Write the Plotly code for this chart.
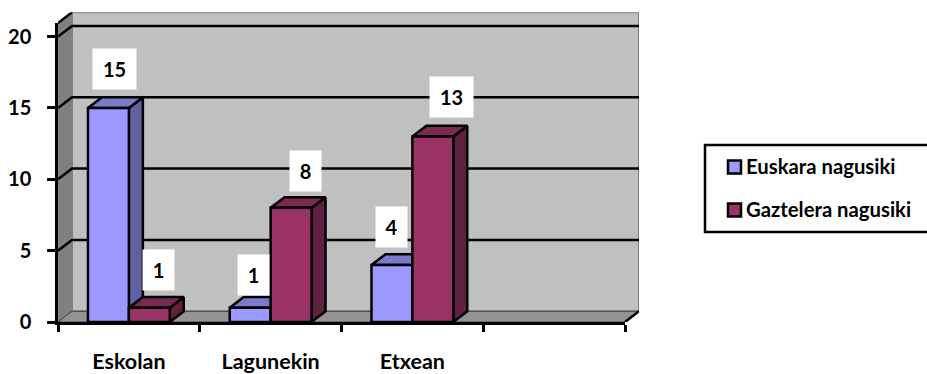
import plotly.graph_objects as go

# Survey counts per setting
categories = ["Eskolan", "Lagunekin", "Etxean", " "]
euskara = [15, 1, 4, None]
gaztelera = [1, 8, 13, None]
series_names = ["Euskara nagusiki", "Gaztelera nagusiki"]
y_ticks = [0, 5, 10, 15, 20]

# Page and plot geometry, in pixels
W, H = 927, 374
LEFT, RIGHT, BOTTOM, TOP = 58, 625, 322, 23
DEPTH_PX_X, DEPTH_PX_Y = 14, 10.7
UNIT_PX = 14.27
CAT_PX = (RIGHT - LEFT) / 4

# Extruded depth in axis units
DX = DEPTH_PX_X / CAT_PX
DY = DEPTH_PX_Y / UNIT_PX
Y_MAX = (BOTTOM - TOP) / UNIT_PX
X_MIN, X_MAX = -0.5, 3.5
BARGAP = 0.423
BAR_W = (1 - BARGAP) / 2

FONT = "Lato, Carlito, sans-serif"
INK = "#000000"
TEXT_SIZE = 20
STROKE = 2.5
BLUE = dict(front="#9999FF", top="#7A7AC9", side="#6060A3")
RED = dict(front="#993366", top="#7A2950", side="#602040")
WALL, SIDE_WALL, FLOOR = "#C0C0C0", "#808080", "#949494"


def px_x(x):
    return x / W


def px_y(y):
    return 1 - y / H


def polygon(xs, ys, fill, line="black", width=STROKE):
    return go.Scatter(
        x=xs, y=ys, mode="lines", fill="toself", fillcolor=fill,
        line=dict(color=line, width=width), hoverinfo="skip",
        showlegend=False, cliponaxis=False, xaxis="x", yaxis="y",
    )


def extruded_faces(values, offset, colors):
    """Top and right-hand faces of one series as two polygon traces."""
    top_x, top_y, side_x, side_y = [], [], [], []
    for i, v in enumerate(values):
        if v is None:
            continue
        x0 = i + offset
        x1 = x0 + BAR_W
        top_x += [x0, x1, x1 + DX, x0 + DX, x0, None]
        top_y += [v, v, v + DY, v + DY, v, None]
        side_x += [x1, x1 + DX, x1 + DX, x1, x1, None]
        side_y += [0, DY, v + DY, v, 0, None]
    return [polygon(side_x, side_y, colors["side"]), polygon(top_x, top_y, colors["top"])]


fig = go.Figure()

# Back wall, its gridlines, the side wall and the floor
fig.add_trace(polygon(
    [X_MIN + DX, X_MAX + DX, X_MAX + DX, X_MIN + DX, X_MIN + DX],
    [DY, DY, Y_MAX + DY, Y_MAX + DY, DY], WALL, line="#808080", width=2))
fig.add_trace(polygon(
    [X_MIN, X_MIN + DX, X_MIN + DX, X_MIN, X_MIN],
    [0, DY, Y_MAX + DY, Y_MAX, 0], SIDE_WALL, line="#808080", width=1))
fig.add_trace(polygon(
    [X_MIN, X_MIN + DX, X_MAX + DX, X_MAX, X_MIN],
    [0, DY, DY, 0, 0], FLOOR, line="#404040", width=1))

grid_x, grid_y = [], []
for t in y_ticks[1:]:
    grid_x += [X_MIN, X_MIN + DX, X_MAX + DX, None]
    grid_y += [t, t + DY, t + DY, None]
fig.add_trace(go.Scatter(
    x=grid_x, y=grid_y, mode="lines", line=dict(color="black", width=STROKE),
    hoverinfo="skip", showlegend=False, xaxis="x", yaxis="y", cliponaxis=False))
fig.add_trace(go.Scatter(
    x=[X_MIN, X_MIN + DX, None, X_MAX, X_MAX + DX],
    y=[Y_MAX, Y_MAX + DY, None, 0, DY], mode="lines",
    line=dict(color="black", width=STROKE), hoverinfo="skip", showlegend=False,
    xaxis="x", yaxis="y", cliponaxis=False))

# Extruded faces sit under the front faces of the bars
for trace in extruded_faces(euskara, -BAR_W, BLUE) + extruded_faces(gaztelera, 0, RED):
    fig.add_trace(trace)

# Front faces
for name, values, colors in [(series_names[0], euskara, BLUE), (series_names[1], gaztelera, RED)]:
    fig.add_trace(go.Bar(
        x=categories, y=values, name=name, xaxis="x2", yaxis="y2",
        marker=dict(color=colors["front"], line=dict(color="black", width=STROKE)),
        showlegend=False,
    ))

# Value labels on white boxes, nudged clear of the bar tops
label_nudge = {
    0: [(6, 39), (3, 33), (0, 38)],
    1: [(9.5, 38), (14, 37), (19, 39)],
}
annotations = []
for s, values in enumerate([euskara, gaztelera]):
    centre = -BAR_W / 2 if s == 0 else BAR_W / 2
    for i, v in enumerate(values):
        if v is None:
            continue
        dx, dy = label_nudge[s][i]
        annotations.append(dict(
            x=i + centre, y=v, xref="x", yref="y", text=str(v), showarrow=False,
            xshift=dx, yshift=dy, bgcolor="white",
            width=41 if v >= 10 else 29, height=38, align="center", valign="middle",
            font=dict(family=FONT, size=TEXT_SIZE, weight=700, color=INK),
        ))

# Legend box
shapes = [dict(
    type="rect", xref="paper", yref="paper", x0=px_x(705), x1=px_x(935),
    y0=px_y(232), y1=px_y(145), line=dict(color="black", width=STROKE), fillcolor="white",
)]
for name, colors, row_y in [(series_names[0], BLUE, 167), (series_names[1], RED, 210)]:
    shapes.append(dict(
        type="rect", xref="paper", yref="paper", x0=px_x(728), x1=px_x(741),
        y0=px_y(row_y + 6.5), y1=px_y(row_y - 6.5), fillcolor=colors["front"],
        line=dict(color="black", width=STROKE),
    ))
    annotations.append(dict(
        x=px_x(745), y=px_y(row_y - 1.5), xref="paper", yref="paper", text=name,
        showarrow=False, xanchor="left", yanchor="middle",
        font=dict(family=FONT, size=20.3, weight=700, color=INK), borderpad=0,
    ))

tick_font = dict(family=FONT, size=TEXT_SIZE, weight=700, color=INK)
fig.update_layout(
    width=W, height=H, autosize=False,
    margin=dict(l=0, r=0, t=0, b=0, pad=0, autoexpand=False),
    paper_bgcolor="white", plot_bgcolor="rgba(0,0,0,0)",
    barmode="group", bargap=BARGAP, bargroupgap=0,
    font=dict(family=FONT, color=INK),
    xaxis=dict(
        visible=False, range=[X_MIN, X_MAX + DX], fixedrange=True,
        domain=[px_x(LEFT), px_x(RIGHT + DEPTH_PX_X)], anchor="y", automargin=False,
    ),
    yaxis=dict(
        visible=False, range=[0, Y_MAX + DY], fixedrange=True,
        domain=[px_y(BOTTOM), px_y(TOP - DEPTH_PX_Y)], anchor="x", automargin=False,
    ),
    xaxis2=dict(
        type="category", categoryorder="array", categoryarray=categories,
        range=[X_MIN, X_MAX], domain=[px_x(LEFT), px_x(RIGHT)], anchor="y2",
        tickson="boundaries", ticks="outside", ticklen=7, tickwidth=STROKE, tickcolor="black",
        showline=True, linecolor="black", linewidth=STROKE, showgrid=False, zeroline=False,
        tickfont=dict(family=FONT, size=21.5, weight=700, color=INK),
        ticklabelstandoff=18, fixedrange=True, automargin=False,
    ),
    yaxis2=dict(
        range=[0, Y_MAX], domain=[px_y(BOTTOM), px_y(TOP)], anchor="x2",
        tickmode="array", tickvals=y_ticks, ticks="outside", ticklen=8, tickwidth=STROKE,
        tickcolor="black", showline=True, linecolor="black", linewidth=STROKE,
        showgrid=False, zeroline=False, tickfont=tick_font, ticklabelstandoff=12,
        fixedrange=True, automargin=False,
    ),
    shapes=shapes,
    annotations=annotations,
    showlegend=False,
)

fig.write_html("out.html", config=dict(displayModeBar=False))
